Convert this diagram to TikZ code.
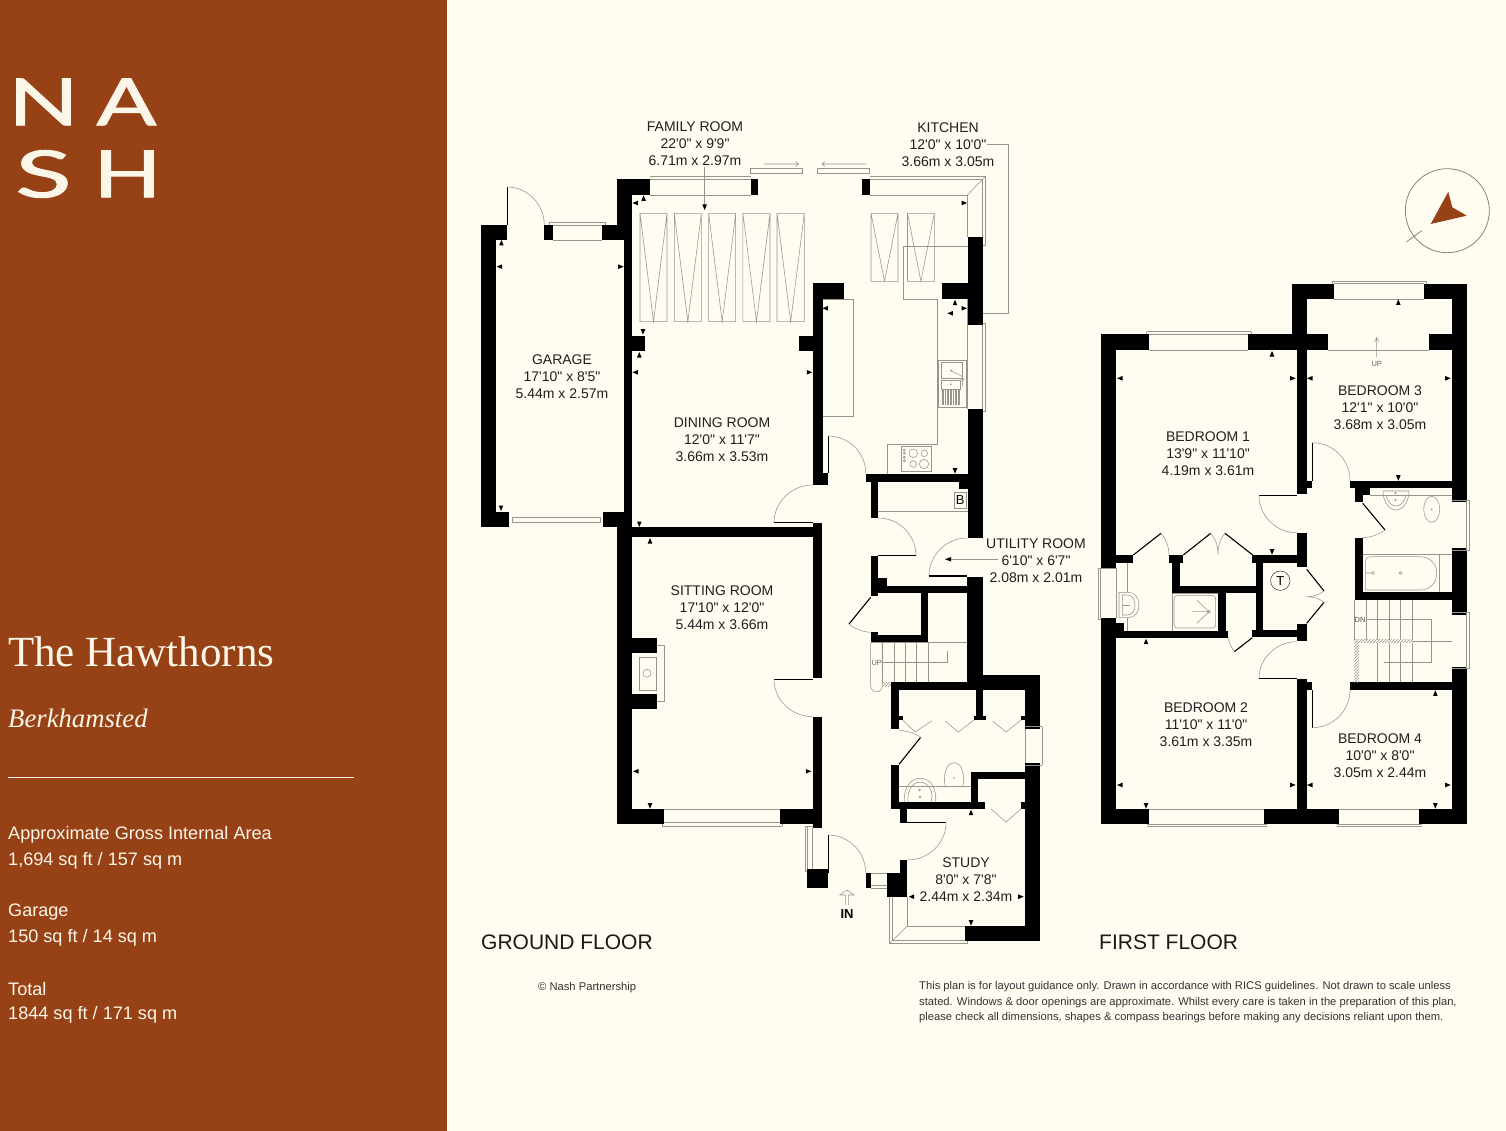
\documentclass[tikz,border=0pt]{standalone}
\usepackage{fontspec}
\newfontfamily\planfont{Liberation Sans}
\newfontfamily\titlefont{Liberation Serif}
\newfontfamily\logofont[FakeBold=1.4]{Lato}
\usetikzlibrary{calc,patterns}
\definecolor{panelbrown}{HTML}{974216}
\definecolor{papercream}{HTML}{FFFCF2}
\definecolor{panelcream}{HTML}{FCF6E8}
\definecolor{fixgrey}{HTML}{96968C}
\definecolor{compassline}{HTML}{8F8270}
\tikzset{
  wall/.style={fill=black},
  thin line/.style={draw=fixgrey,line width=0.55pt},
  leaf/.style={draw=black,line width=1.1pt},
  swing/.style={draw=fixgrey,line width=0.55pt},
  roomlabel/.style={font=\planfont\fontsize{14}{17}\selectfont,align=center,inner sep=0pt,text=black!88},
  floorlabel/.style={font=\planfont\fontsize{21}{24}\selectfont,inner sep=0pt,anchor=west,text=black!90},
  paneltext/.style={font=\planfont\fontsize{18.1}{24}\selectfont,text=panelcream,anchor=west,inner sep=0pt},
  logoletter/.style={font=\logofont\fontsize{65}{70}\selectfont,text=panelcream,inner sep=0pt},
  smalltext/.style={font=\planfont\fontsize{11.2}{15.5}\selectfont,inner sep=0pt,text=black!80}
}
% quarter circle of a door: start, corner, end
\newcommand{\doorswing}[6]{\draw[swing] (#1,#2) .. controls ($(#1,#2)!0.55!(#3,#4)$) and ($(#5,#6)!0.55!(#3,#4)$) .. (#5,#6);}
\begin{document}
\begin{tikzpicture}[x=1pt,y=-1pt]
  \useasboundingbox (0,0) rectangle (1506,1131);
  \fill[papercream] (0,0) rectangle (1506,1131);
  \fill[panelbrown] (0,0) rectangle (447,1131);

  % left panel
  \node[logoletter,xscale=1.42] (logoN) at (43.5,102) {N};
  \node[logoletter,xscale=1.36] (logoA) at (126.5,102) {A};
  \node[logoletter,xscale=1.6] (logoS) at (43.5,174) {S};
  \node[logoletter,xscale=1.36] (logoH) at (127.5,174) {H};
  \node[font=\titlefont\fontsize{43}{46}\selectfont,text=panelcream,anchor=west,inner sep=0pt] (title) at (8,652) {The Hawthorns};
  \node[font=\titlefont\itshape\fontsize{26.7}{30}\selectfont,text=panelcream,anchor=west,inner sep=0pt] (place) at (8,718) {Berkhamsted};
  \draw[panelcream,line width=0.8pt] (8,777) -- (354,777);
  \node[paneltext] (area1) at (8,835) {Approximate Gross Internal Area};
  \node[paneltext] (area2) at (8,861) {1,694 sq ft / 157 sq m};
  \node[paneltext] (area3) at (8,912) {Garage};
  \node[paneltext] (area4) at (8,938) {150 sq ft / 14 sq m};
  \node[paneltext] (area5) at (8,989) {Total};
  \node[paneltext] (area6) at (8,1015) {1844 sq ft / 171 sq m};

  % compass
  \draw[compassline,line width=0.8pt] (1447.3,210.7) circle (42);
  \draw[compassline,line width=0.8pt] (1406.7,241.7) -- (1421.7,230.7);
  \fill[panelbrown] (1448.3,191.7) -- (1452.3,207.3) -- (1466.7,215.7) -- (1430.7,224) -- cycle;

  % ground floor: garage
  \fill[wall] (481,225) rectangle (496,527);
  \fill[wall] (481,225) rectangle (507,240);
  \fill[wall] (544.3,225) rectangle (553,240);
  \fill[wall] (602,225) rectangle (632,240);
  \fill[wall] (481,512) rectangle (509,527);
  \fill[wall] (603,512) rectangle (632,527);
  \fill[wall] (617,179) rectangle (632,240);
  \fill[wall] (624,240) rectangle (632,527);
  \draw[thin line] (549,225) -- (549,222.5) -- (605,222.5) -- (605,225);
  \draw[thin line] (553,225) -- (602,225) (553,240) -- (602,240);
  \draw[thin line] (512,517.5) rectangle (600,522.7);
  \draw[leaf,line width=0.8pt] (507,187) -- (507,225);
  \doorswing{507}{187}{544.3}{187}{544.3}{225}

  % family room, dining room, kitchen
  \fill[wall] (617,179) rectangle (650,195);
  \fill[wall] (751,179) rectangle (758,195);
  \fill[wall] (862,179) rectangle (870,195);
  \draw[thin line] (650,179) -- (751,179) (650,176.5) -- (751,176.5) (650,195) -- (751,195);
  \draw[thin line] (750,168.7) rectangle (802.5,173);
  \draw[thin line] (817.5,168.7) rectangle (869.6,173);
  \draw[thin line] (763.5,164) -- (798.6,164) (795.5,161.5) -- (798.6,164) -- (795.5,166.5);
  \draw[thin line] (866,164) -- (822,164) (825,161.5) -- (822,164) -- (825,166.5);
  \draw[thin line] (870,176.7) -- (985,176.7) -- (985,245) -- (982.5,245);
  \draw[thin line] (870,179) -- (982.5,179) -- (982.5,237);
  \draw[thin line] (870,195) -- (967.5,195) -- (967.5,237);
  \draw[thin line] (967.5,195) -- (985,176.7);
  \fill[wall] (967.5,237) rectangle (982.5,325);
  \fill[wall] (941.5,283) rectangle (967.5,299);
  \fill[wall] (813,283) rectangle (844,299);
  \fill[wall] (813,283) rectangle (822.5,485);
  \fill[wall] (798.6,336) rectangle (813,351);
  \fill[wall] (632,336) rectangle (645,351);
  \fill[wall] (822.5,473) rectangle (828,485);
  \fill[wall] (967.5,408.5) rectangle (982.5,538);
  \fill[wall] (865.7,474) rectangle (967.5,481.7);
  \fill[wall] (871,481.7) rectangle (878,518);
  \fill[wall] (959,481.7) rectangle (967.5,489);
  \fill[wall] (632,527) rectangle (813,537.3);
  \fill[wall] (813,523) rectangle (822.3,678);
  \draw[thin line] (967.5,323) -- (967.5,409) (982.5,325) -- (982.5,409) (985,323) -- (985,411.7) (982.5,323) -- (985,323) (982.5,411.7) -- (985,411.7);
  \draw[thin line] (967.5,299) -- (967.5,323);
  % roof lanterns
  \foreach \lx/\rx in {640/667,674.3/701.4,708.6/735.7,742.9/770,777/804.3}
    \draw[thin line] (\lx,213.3) rectangle (\rx,321.7) (\lx,213.3) -- ($(\lx,321.7)!0.5!(\rx,321.7)$) -- (\rx,213.3);
  \foreach \lx/\rx in {871/898,907.5/934.3}
    \draw[thin line] (\lx,213.3) rectangle (\rx,281.3) (\lx,213.3) -- ($(\lx,281.3)!0.5!(\rx,281.3)$) -- (\rx,213.3);
  % kitchen fittings
  \draw[thin line] (967.5,246) -- (903,246) -- (903,299) -- (936.8,299) -- (936.8,444) -- (886.8,444) -- (886.8,474);
  \draw[thin line] (822.5,299) -- (853,299) -- (853,416) -- (822.5,416);
  \draw[thin line] (938.3,360) rectangle (966.7,407.3);
  \draw[thin line] (941,362.7) rectangle (962.3,378.3);
  \draw[thin line] (941,380) rectangle (960,389.3);
  \foreach \dx in {942,943.6,...,961}
    \draw[thin line] (\dx,390) -- (\dx,405);
  \fill[fixgrey] (951,384.3) circle (0.9) (951,370.7) circle (1);
  \draw[thin line] (951,370.7) -- (962.7,376.7) (962.7,371.7) -- (962.7,386.7);
  \draw[thin line] (962.7,379.3) circle (1.4);
  \draw[thin line] (901,446.7) rectangle (931.7,471);
  \foreach \cx/\cy/\cr in {913.3/453.3/4.3,924.3/453.3/3.3,913.3/464/3.3,924/464/4.7}
    \draw[thin line] (\cx,\cy) circle (\cr);
  \foreach \cy in {450,453.3,457.3,460.7}
    \draw[thin line] (904.3,\cy) circle (1.1);
  % utility
  \draw[thin line] (878,511.7) -- (967.5,511.7);
  \draw[thin line] (954,492.7) rectangle (966.5,508);
  \node[font=\planfont\fontsize{13}{13}\selectfont,inner sep=0pt] (boiler) at (960.2,500.5) {B};
  \draw[leaf,line width=0.8pt] (828,436) -- (828,473);
  \doorswing{828}{436}{865.7}{436}{865.7}{473}
  \doorswing{813}{485}{774}{485}{774}{522.7}
  \draw[leaf] (774,522.7) -- (813,522.7);
  \doorswing{878}{518}{916}{518}{916}{555.7}
  \draw[leaf] (878,555.7) -- (916,555.7);
  \fill[wall] (967,576.5) rectangle (983,683);
  \doorswing{967}{538}{929}{538}{929}{576}
  \draw[leaf] (929,576) -- (967,576);
  \draw[thin line] (998.3,559.3) -- (947,559.3);
  \fill[black] (945,559.3) -- (951,557) -- (951,561.5) -- cycle;
  % kitchen leader lines
  \draw[thin line] (987,144.3) -- (1008.2,144.3) -- (1008.2,313.3) -- (982.5,313.3);
  \draw[thin line] (704.6,167) -- (704.6,207);

  % ground floor: sitting room
  \fill[wall] (617,527) rectangle (632,824);
  \fill[wall] (632,638) rectangle (656.7,652.7);
  \fill[wall] (632,693.7) rectangle (656.7,708.7);
  \draw[thin line] (656.7,645) -- (664.3,645) -- (664.3,701) -- (656.7,701);
  \draw[thin line] (639,657) rectangle (656.7,690);
  \draw[thin line] (647,673.3) circle (4);
  \fill[wall] (632,809) rectangle (664.3,824);
  \fill[wall] (780,809) rectangle (822.3,824);
  \fill[wall] (812.7,716.7) rectangle (822.3,828);
  \draw[thin line] (664.3,809) -- (780,809) (664.3,822) -- (780,822) (662,826) -- (782,826) (662,826) -- (662,824) (782,826) -- (782,824);
  \draw[leaf] (774,679.3) -- (812.7,679.3);
  \doorswing{774}{679.3}{774}{716.7}{812.7}{716.7}

  % ground floor: hall, porch, stairs
  \draw[thin line] (805,826) -- (805,871) -- (807.3,871) (807.3,826) -- (807.3,870) (812,828) -- (812,869) (805,826) -- (812.7,826);
  \fill[wall] (807.3,869) rectangle (827.7,888.3);
  \draw[leaf,line width=0.8pt] (828.3,835) -- (828.3,873);
  \doorswing{828.3}{835}{865.7}{835}{865.7}{873}
  \fill[wall] (865.7,873) rectangle (870.7,888.3);
  \draw[thin line] (870.7,873) -- (887.3,873) (870.7,885) -- (887.3,885) (870.7,888.3) -- (887.3,888.3);
  \fill[wall] (887.3,873) rectangle (907.3,896.7);
  \fill[wall] (900,860) rectangle (907.3,873);
  % cupboard under the stairs
  \fill[wall] (870.7,556) rectangle (878.3,596);
  \fill[wall] (878.3,578.3) rectangle (886.7,586.7);
  \fill[wall] (878.3,586) rectangle (967.3,593.3);
  \fill[wall] (920.7,593.3) rectangle (928.3,642.7);
  \fill[wall] (870.7,635) rectangle (928.3,642.7);
  \fill[wall] (870.7,632) rectangle (878.3,635);
  \draw[leaf] (870.7,597.3) -- (849,624);
  \draw[swing] (849,624) .. controls (855,629) and (863,632) .. (870.7,632.3);
  % stairs
  \draw[thin line] (870.7,642.7) -- (967.3,642.7);
  \foreach \sx in {882.7,894,905.7,916.7,928.3}
    \draw[thin line] (\sx,642.7) -- (\sx,682.7);
  \draw[thin line] (881.5,662.7) -- (947.7,662.7) -- (947.7,650.7);
  \node[font=\planfont\fontsize{7.5}{8}\selectfont,inner sep=0pt,text=black!60] (upground) at (876.7,663) {UP};
  \draw[thin line] (870.7,642.7) -- (870.7,686) arc (180:0:5.8) -- (882.2,642.7);
  \fill[pattern=north east lines,pattern color=fixgrey] (882.7,682.7) rectangle (891,686);

  % ground floor: cloakroom and study
  \fill[wall] (891,682) rectangle (1040,690);
  \fill[wall] (982.7,675) rectangle (1040,690);
  \fill[wall] (891,682) rectangle (898.7,729);
  \fill[wall] (898.7,715.7) rectangle (902.7,720);
  \fill[wall] (976,690) rectangle (982.7,716);
  \fill[wall] (974,716) rectangle (985.7,720);
  \fill[wall] (1025,675) rectangle (1040,729.3);
  \fill[wall] (1021,716) rectangle (1025,720);
  \fill[wall] (1025,762.7) rectangle (1040,940.7);
  \fill[wall] (891,765) rectangle (898.7,809);
  \fill[wall] (891,801.7) rectangle (985,809);
  \fill[wall] (971,771.7) rectangle (978.3,809);
  \fill[wall] (971,771.7) rectangle (1025,779);
  \fill[wall] (1021,801.7) rectangle (1025,809);
  \fill[wall] (900,808) rectangle (907.3,822.7);
  \fill[wall] (965,926) rectangle (1040,940.7);
  \draw[swing] (902.7,720) -- (915,732) -- (931.7,721);
  \draw[swing] (945,721) -- (958.3,732) -- (974,720);
  \draw[swing] (992.7,721) -- (1006,732) -- (1021,720);
  \draw[leaf] (899,764.3) -- (920.7,737.3);
  \draw[swing] (899,730) .. controls (906,731) and (915,733) .. (920.7,737.3);
  \draw[thin line] (1025,726.7) -- (1040,726.7) (1025,765) -- (1040,765) (1042.3,726.7) -- (1042.3,765) (1040,726.7) -- (1042.3,726.7) (1040,765) -- (1042.3,765) (1025,729) -- (1025,763);
  \draw[thin line] (945.3,786) .. controls (943,778) and (945,762.7) .. (954,762.7) .. controls (963,762.7) and (965,778) .. (962.7,786);
  \fill[fixgrey] (954,778) circle (0.8);
  \draw[thin line] (898.7,786) -- (971,786);
  \draw[thin line] (904.3,801.7) .. controls (903.5,792) and (908,778.3) .. (920,778.3) .. controls (932,778.3) and (936.5,790) .. (935.7,801.7);
  \draw[thin line] (908,801.7) .. controls (907,793) and (911,782.3) .. (920,782.3) .. controls (929,782.3) and (934,792) .. (931,801.7);
  \draw[thin line] (919.5,790) circle (1) (920,796.7) circle (1);
  \draw[swing] (991,809) -- (1006,822) -- (1021,809);
  \draw[leaf] (907.3,822.7) -- (946,822.7);
  \doorswing{946}{822.7}{946}{860}{907.3}{860}
  % bay window
  \draw[thin line] (889.3,896.7) -- (889.3,943.3) -- (967.7,943.3) -- (967.7,940.7);
  \draw[thin line] (892.7,896.7) -- (892.7,940) -- (965,940);
  \draw[thin line] (907.3,896.7) -- (907.3,926) -- (965,926);
  \draw[thin line] (907.3,926) -- (890,943);
  % front door arrow
  \draw[thin line] (845.7,905) -- (845.7,895) -- (840,895) -- (847,890) -- (854,895) -- (848.3,895) -- (848.3,905);
  \node[font=\planfont\bfseries\fontsize{13}{13}\selectfont,inner sep=0pt] (inlabel) at (847,914) {IN};

  % first floor: outer walls
  \fill[wall] (1100.7,334.3) rectangle (1116,568.3);
  \fill[wall] (1100.7,617.7) rectangle (1116,824.3);
  \fill[wall] (1100.7,334.3) rectangle (1149,350);
  \fill[wall] (1248.3,334.3) rectangle (1328.3,350);
  \fill[wall] (1291.7,283.7) rectangle (1306.7,350);
  \fill[wall] (1291.7,283.7) rectangle (1334.3,299);
  \fill[wall] (1424,283.7) rectangle (1466.7,299);
  \fill[wall] (1451.7,283.7) rectangle (1466.7,502);
  \fill[wall] (1429.3,334.3) rectangle (1451.7,350);
  \fill[wall] (1451.7,548) rectangle (1466.7,615);
  \fill[wall] (1451.7,666.7) rectangle (1466.7,824.3);
  \fill[wall] (1100.7,809.3) rectangle (1149,824.3);
  \fill[wall] (1264,809.3) rectangle (1339.3,824.3);
  \fill[wall] (1419.3,809.3) rectangle (1466.7,824.3);
  % first floor: windows
  \draw[thin line] (1149,334.3) -- (1248.3,334.3) (1149,350) -- (1248.3,350) (1146.7,331.7) -- (1251,331.7) (1146.7,331.7) -- (1146.7,334.3) (1251,331.7) -- (1251,334.3);
  \draw[thin line] (1334.3,283.7) -- (1424,283.7) (1334.3,299) -- (1424,299) (1332,281.3) -- (1426.5,281.3) (1332,281.3) -- (1332,283.7) (1426.5,281.3) -- (1426.5,283.7);
  \draw[thin line] (1149,809.3) -- (1264,809.3) (1146.7,824.3) -- (1266.7,824.3) (1146.7,826.5) -- (1266.7,826.5);
  \draw[thin line] (1339.3,809.3) -- (1419.3,809.3) (1337,824.3) -- (1422,824.3) (1337,826.5) -- (1422,826.5);
  \draw[thin line] (1098.3,568.3) -- (1116,568.3) (1098.3,619.3) -- (1100.7,619.3) (1098.3,568.3) -- (1098.3,619.3) (1100.7,568.3) -- (1100.7,618) (1116,568.3) -- (1116,618);
  \draw[thin line] (1451.7,500) -- (1469,500) -- (1469,550) -- (1451.7,550) (1466.7,500) -- (1466.7,550);
  \draw[thin line] (1451.7,612.7) -- (1469,612.7) -- (1469,668) -- (1451.7,668) (1466.7,612.7) -- (1466.7,668);
  % first floor: inner walls
  \fill[wall] (1296.7,350) rectangle (1306.7,494);
  \fill[wall] (1306.7,480.7) rectangle (1312.3,488.3);
  \fill[wall] (1350,480.7) rectangle (1451.7,488.3);
  \fill[wall] (1355,488.3) rectangle (1370,495);
  \fill[wall] (1355,495) rectangle (1362.7,502);
  \fill[wall] (1355,538.3) rectangle (1362.7,600);
  \fill[wall] (1355,592.3) rectangle (1451.7,600);
  \fill[wall] (1296.7,532.7) rectangle (1306.7,566.7);
  \fill[wall] (1116,555) rectangle (1133.3,562.7);
  \fill[wall] (1169,555) rectangle (1183.3,563.3);
  \fill[wall] (1172.3,563.3) rectangle (1180,593);
  \fill[wall] (1252.3,555) rectangle (1296.7,562.7);
  \fill[wall] (1255.7,562.7) rectangle (1263.3,630.7);
  \fill[wall] (1172.3,585.7) rectangle (1255.7,593.3);
  \fill[wall] (1217.7,593.3) rectangle (1225.7,630.7);
  \fill[wall] (1296.7,624.3) rectangle (1306.7,641);
  \fill[wall] (1252.3,630) rectangle (1296.7,637.3);
  \fill[wall] (1116,630.7) rectangle (1228.3,637.7);
  \fill[wall] (1116,622.7) rectangle (1124.3,630.7);
  \fill[wall] (1296.7,679.3) rectangle (1306.7,810);
  \fill[wall] (1306.7,682.3) rectangle (1312.3,690);
  \fill[wall] (1350,682.3) rectangle (1451.7,690);
  % first floor: doors
  \draw[leaf,line width=0.8pt] (1312.3,442.7) -- (1312.3,480.7);
  \doorswing{1312.3}{442.7}{1350}{442.7}{1350}{480.7}
  \draw[leaf] (1259,495.3) -- (1296.7,495.3);
  \doorswing{1259}{495.3}{1259}{532.7}{1296.7}{532.7}
  \draw[leaf] (1362.7,503.3) -- (1385,530);
  \draw[swing] (1385,530) .. controls (1378,535) and (1370,537.5) .. (1362.7,537.7);
  \draw[leaf] (1133.3,555) -- (1161,533.3);
  \draw[swing] (1161,533.3) .. controls (1166,539) and (1169,547) .. (1169,555.7);
  \draw[leaf] (1183.3,555) -- (1210.7,533.3);
  \draw[leaf] (1252.7,555) -- (1225,533.3);
  \draw[swing] (1210.7,533.3) .. controls (1215,538) and (1218,545) .. (1218,554) .. controls (1218,545) and (1221,538) .. (1225,533.3);
  \draw[leaf] (1306.7,569.3) -- (1324,591);
  \draw[leaf] (1306.7,623.3) -- (1324,602.3);
  \draw[swing] (1324,591) .. controls (1319,595) and (1313,596.5) .. (1308,596.7) .. controls (1313,597) and (1319,598) .. (1324,602.3);
  \draw[thin line,draw=black!75] (1280.3,580.7) circle (9.7);
  \node[font=\planfont\fontsize{13}{13}\selectfont,inner sep=0pt] (tank) at (1280.3,580.7) {T};
  \draw[leaf] (1252.3,637.7) -- (1234.3,651.7);
  \draw[swing] (1234.3,651.7) .. controls (1231,647) and (1229,642) .. (1228.3,637.7);
  \doorswing{1296.7}{641.7}{1259}{641.7}{1259}{678.7}
  \draw[leaf] (1259,678.7) -- (1296.7,678.7);
  \draw[leaf,line width=0.8pt] (1312.3,690) -- (1312.3,727.7);
  \doorswing{1312.3}{727.7}{1350}{727.7}{1350}{690}
  % first floor: bathroom
  \draw[thin line] (1370,495) -- (1451.7,495);
  \draw[thin line] (1383,491) -- (1409,491) (1383,491) .. controls (1383,503) and (1390,510) .. (1396,510) .. controls (1402,510) and (1409,503) .. (1409,491);
  \draw[thin line] (1386,495) .. controls (1387,502) and (1392,506) .. (1396,506) .. controls (1400,506) and (1405,502) .. (1406,495);
  \draw[thin line] (1395.5,500) circle (0.8) (1395.5,493) circle (0.8);
  \draw[thin line] (1431.7,509.3) ellipse (8 and 13);
  \draw[thin line] (1431.7,509.3) circle (0.6);
  \draw[thin line] (1362.7,554) -- (1451.7,554) (1439,554) -- (1439,592.3);
  \draw[thin line] (1365.3,590) -- (1365.3,563) .. controls (1365.3,559) and (1367,556.7) .. (1371,556.7) -- (1420,556.7) .. controls (1430,556.7) and (1436.7,564) .. (1436.7,573) .. controls (1436.7,583) and (1430,590) .. (1420,590) -- cycle;
  \draw[thin line] (1373,573) circle (1.5) (1400.5,573) circle (1.5) (1365.3,573) -- (1371.5,573);
  % first floor: en suite
  \draw[thin line] (1127.3,562.7) -- (1127.3,592) (1127.3,618) -- (1127.3,630.7);
  \draw[thin line] (1119,592.3) -- (1128,592.3) .. controls (1135,592.3) and (1139,598) .. (1139,605) .. controls (1139,612) and (1135,617.7) .. (1128,617.7) -- (1119,617.7) -- cycle;
  \draw[thin line] (1122.3,595) -- (1127,595) .. controls (1132,595) and (1135,599) .. (1135,605) .. controls (1135,611) and (1132,615) .. (1127,615) -- (1122.3,615) -- cycle;
  \draw[thin line] (1123.3,605) -- (1130,605);
  \draw[thin line] (1172.3,593.3) -- (1172.3,630.7) (1217.7,593.3) -- (1172.3,593.3);
  \draw[thin line,rounded corners=3pt] (1174,595.7) rectangle (1215.7,628);
  \draw[thin line] (1192.3,611.7) -- (1209,611.7) (1196.7,600) -- (1209,611.7) -- (1196.7,623.3);
  \draw[thin line] (1209,611.7) circle (1.5);
  % first floor: stairs
  \draw[thin line] (1354.3,600) -- (1354.3,640);
  \foreach \sx in {1366.7,1377.7,1389.3,1400.7,1412}
    \draw[thin line] (\sx,600) -- (\sx,640);
  \foreach \sx in {1377.7,1389.3,1400.7,1412}
    \draw[thin line] (\sx,642.7) -- (\sx,682.3);
  \draw[thin line] (1412,641) -- (1451.7,641);
  \draw[thin line] (1366,619.3) -- (1431.7,619.3) -- (1431.7,662) -- (1384.3,662);
  \node[font=\planfont\fontsize{7.5}{8}\selectfont,inner sep=0pt,text=black!70] (downfirst) at (1360,619.5) {DN};
  \fill[pattern=north east lines,pattern color=fixgrey] (1354.3,639.3) rectangle (1412,642.7);
  \fill[pattern=north east lines,pattern color=fixgrey] (1354.3,642.7) rectangle (1359,682.3);
  % first floor: up mark
  \draw[thin line] (1328.3,350) -- (1429.3,350);
  \draw[thin line] (1376.7,357) -- (1376.7,337.5) (1374.7,342) -- (1376.7,337.5) -- (1378.7,342);
  \node[font=\planfont\fontsize{7.5}{8}\selectfont,inner sep=0pt,text=black!60] (upfirst) at (1376.7,364.3) {UP};

  % size marks: x, y, direction
  \foreach \mx/\my/\ang in {
    501.4/243/90,499.6/266.7/180,620.7/266.7/0,501/508/270,
    643.6/198.3/90,635.4/203/180,964/203/0,643/331.7/270,704.6/207/270,
    639.3/355/90,635.4/372.3/180,809.3/372.3/0,639.3/524/270,
    825.4/308.3/180,955/302.7/90,964/308.3/0,950.4/313.3/180,955/470.7/270,
    650/541/90,636/771.3/180,808.3/771.3/0,650/805.7/270,
    971/812.7/90,911.7/896.7/180,1020.7/896.7/0,971/922.7/270,
    1272/354/90,1120/378.3/180,1292.7/378.3/0,1272/551.7/270,
    1398.3/302.3/90,1310/378.3/180,1447.7/378.3/0,1398.3/477.7/270,
    1146/641.7/90,1120/785/180,1292.7/785/0,1146/805.7/270,
    1435.3/693.3/90,1310/785/180,1447.7/785/0,1435.3/805.7/270}
    \fill[black,shift={(\mx,\my)},rotate=\ang] (-2.5,-2.3) -- (3,0) -- (-2.5,2.3) -- cycle;

  % room labels
  \node[roomlabel] (family) at (695,144) {FAMILY ROOM\\22'0" x 9'9"\\6.71m x 2.97m};
  \node[roomlabel] (kitchen) at (948,145) {KITCHEN\\12'0" x 10'0"\\3.66m x 3.05m};
  \node[roomlabel] (garage) at (562,377) {GARAGE\\17'10" x 8'5"\\5.44m x 2.57m};
  \node[roomlabel] (dining) at (722,440) {DINING ROOM\\12'0" x 11'7"\\3.66m x 3.53m};
  \node[roomlabel] (sitting) at (722,608) {SITTING ROOM\\17'10" x 12'0"\\5.44m x 3.66m};
  \node[roomlabel] (utility) at (1036,561) {UTILITY ROOM\\6'10" x 6'7"\\2.08m x 2.01m};
  \node[roomlabel] (study) at (966,880) {STUDY\\8'0" x 7'8"\\2.44m x 2.34m};
  \node[roomlabel] (bedone) at (1208,453.5) {BEDROOM 1\\13'9" x 11'10"\\4.19m x 3.61m};
  \node[roomlabel] (bedtwo) at (1206,724.5) {BEDROOM 2\\11'10" x 11'0"\\3.61m x 3.35m};
  \node[roomlabel] (bedthree) at (1380,408) {BEDROOM 3\\12'1" x 10'0"\\3.68m x 3.05m};
  \node[roomlabel] (bedfour) at (1380,756) {BEDROOM 4\\10'0" x 8'0"\\3.05m x 2.44m};

  % floor names and notes
  \node[floorlabel] (groundname) at (481,942) {GROUND FLOOR};
  \node[floorlabel] (firstname) at (1099,942) {FIRST FLOOR};
  \node[smalltext,anchor=west] (copyright) at (538,987.5) {© Nash Partnership};
  \node[smalltext,anchor=north west,align=left] (disclaimer) at (919,981.5) {This plan is for layout guidance only. Drawn in accordance with RICS guidelines. Not drawn to scale unless\\stated. Windows \& door openings are approximate. Whilst every care is taken in the preparation of this plan,\\please check all dimensions, shapes \& compass bearings before making any decisions reliant upon them.};
\end{tikzpicture}
\end{document}
